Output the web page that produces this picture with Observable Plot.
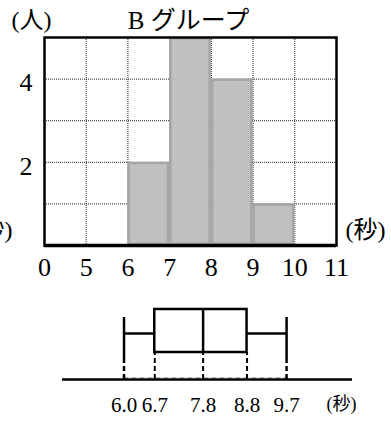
<!DOCTYPE html>
<html><head><meta charset="utf-8">
<script src="https://cdn.jsdelivr.net/npm/d3@7"></script>
<script src="https://cdn.jsdelivr.net/npm/@observablehq/plot@0.6"></script>
<style>
body{margin:0;background:#fff}
#c svg{display:block}
#c svg, #c svg text{font-family:'Liberation Serif','DejaVu Serif','Noto Sans CJK JP',serif !important}
</style>
</head><body><div id="c"></div>
<script>
// ---- data ----
const title = "B グループ";
const yUnit = "(人)";
const xUnit = "(秒)";
const xTickLabels = ["0", "5", "6", "7", "8", "9", "10", "11"];
const binLower = ["6", "7", "8", "9"];
const binUpper = ["7", "8", "9", "10"];
const counts = [2, 5, 4, 1];
const yTickValues = [2, 4];
const yGridValues = [1, 2, 3, 4];
const boxLabels = ["最小値", "第1四分位数", "中央値", "第3四分位数", "最大値"];
const boxValues = [6.0, 6.7, 7.8, 8.8, 9.7];

const FONT = "'Liberation Serif','DejaVu Serif','Noto Sans CJK JP',serif";
const idx = s => xTickLabels.indexOf(s);
const bars = binLower.map((lo, i) => ({x1: idx(lo), x2: idx(binUpper[i]), y: counts[i]}));
const innerTicks = d3.range(1, xTickLabels.length - 1);

const hist = Plot.plot({
  width: 391, height: 290,
  marginLeft: 44, marginRight: 55, marginTop: 37, marginBottom: 45,
  style: {fontFamily: FONT, fontSize: "26px", background: "white", color: "black"},
  x: {domain: [0, xTickLabels.length - 1], label: null},
  y: {domain: [0, 5], label: null},
  marks: [
    Plot.ruleX(innerTicks, {x: d => d, stroke: "#222", strokeWidth: 1, strokeDasharray: "1,1"}),
    Plot.ruleY(yGridValues, {y: d => d, stroke: "#222", strokeWidth: 1, strokeDasharray: "1,1"}),
    Plot.rectY(bars, {x1: "x1", x2: "x2", y: "y", fill: "#c0c0c0", stroke: "#a6a6a6", strokeWidth: 2.5, inset: 1.2}),
    Plot.frame({stroke: "black", strokeWidth: 2.5}),
    Plot.ruleY([0], {stroke: "black", strokeWidth: 3.5}),
    Plot.axisX(d3.range(xTickLabels.length), {label: null, tickSize: 0, tickPadding: 12, fontSize: 26, fontFamily: FONT, tickFormat: i => xTickLabels[i]}),
    Plot.axisY(yTickValues, {label: null, tickSize: 0, tickPadding: 12, fontSize: 26, fontFamily: FONT, dy: 4, tickFormat: d => String(d)}),
    Plot.text([title], {frameAnchor: "top", lineAnchor: "middle", dy: -17, dx: -2, fontSize: 25, fontFamily: FONT, text: d => d}),
    Plot.text([yUnit], {frameAnchor: "top-left", lineAnchor: "middle", dx: -13, dy: -17, fontSize: 24, fontFamily: FONT, textAnchor: "middle", text: d => d}),
    Plot.text([xUnit], {frameAnchor: "bottom-right", lineAnchor: "middle", dx: 9, dy: -15, fontSize: 24, fontFamily: FONT, textAnchor: "start", text: d => d}),
    Plot.text([xUnit], {frameAnchor: "bottom-left", lineAnchor: "middle", dx: -32, dy: -15, fontSize: 24, fontFamily: FONT, textAnchor: "end", text: d => d})
  ]
});

const [mn, q1, med, q3, mx] = boxValues;
const BOX_LO = 27, BOX_HI = 70, WHISK = 46, CAP_LO = 17, CAP_HI = 62;
const dash = "5,3";
const box = Plot.plot({
  width: 391, height: 131,
  marginLeft: 62, marginRight: 39, marginTop: 9, marginBottom: 42,
  style: {fontFamily: FONT, fontSize: "21px", background: "white", color: "black"},
  x: {domain: [4.6, 11.2], label: null},
  y: {domain: [0, 80], axis: null},
  marks: [
    Plot.ruleY([1.5], {x1: mn, x2: mx, stroke: "#777", strokeWidth: 1, strokeDasharray: dash}),
    Plot.ruleY([0], {stroke: "black", strokeWidth: 2.5}),
    Plot.ruleX([q1, med, q3], {x: d => d, y1: 0, y2: BOX_LO, stroke: "black", strokeWidth: 2, strokeDasharray: dash}),
    Plot.ruleX([mn, mx], {x: d => d, y1: 0, y2: CAP_LO, stroke: "black", strokeWidth: 2.5, strokeDasharray: dash}),
    Plot.ruleX([mn, mx], {x: d => d, y1: CAP_LO, y2: CAP_HI, stroke: "black", strokeWidth: 2.5}),
    Plot.ruleY([[mn, q1], [q3, mx]], {x1: d => d[0], x2: d => d[1], y: WHISK, stroke: "black", strokeWidth: 2.5}),
    Plot.rect([[q1, q3]], {x1: d => d[0], x2: d => d[1], y1: BOX_LO, y2: BOX_HI, fill: "none", stroke: "black", strokeWidth: 2.5}),
    Plot.ruleX([med], {x: d => d, y1: BOX_LO, y2: BOX_HI, stroke: "black", strokeWidth: 2.5}),
    Plot.axisX(boxValues, {label: null, tickSize: 0, tickPadding: 18, fontSize: 21, fontFamily: FONT, tickFormat: d => d.toFixed(1)}),
    Plot.text([xUnit], {frameAnchor: "bottom-right", lineAnchor: "middle", dx: -11, dy: 25, fontSize: 18, fontFamily: FONT, textAnchor: "middle", text: d => d})
  ]
});

document.getElementById("c").append(hist, box);
</script>
</body></html>
